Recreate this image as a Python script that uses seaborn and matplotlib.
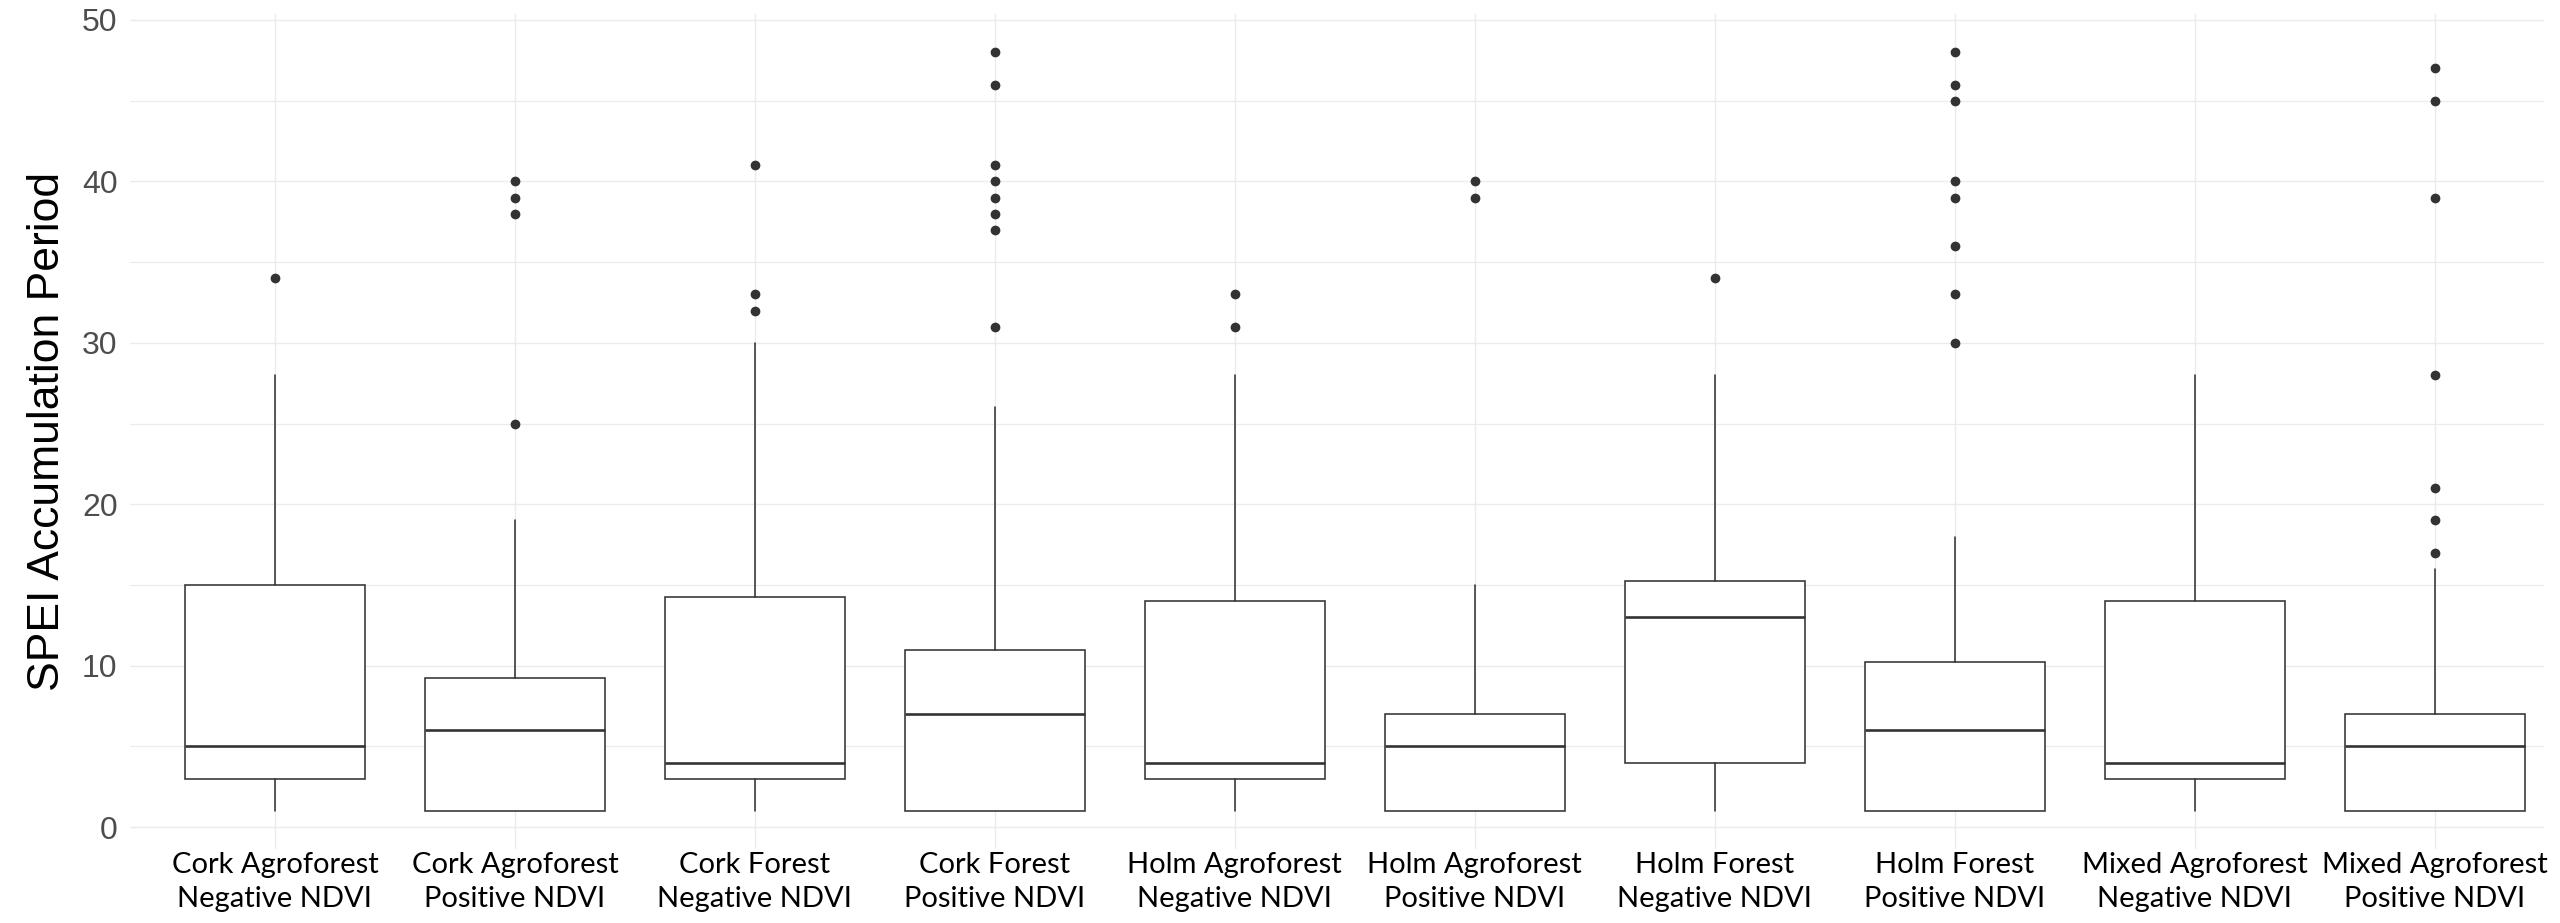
import matplotlib
matplotlib.use("Agg")
import matplotlib.pyplot as plt
from matplotlib.ticker import MultipleLocator
import seaborn as sns

# ---- data ----
categories = [
    "Cork Agroforest\nNegative NDVI", "Cork Agroforest\nPositive NDVI",
    "Cork Forest\nNegative NDVI", "Cork Forest\nPositive NDVI",
    "Holm Agroforest\nNegative NDVI", "Holm Agroforest\nPositive NDVI",
    "Holm Forest\nNegative NDVI", "Holm Forest\nPositive NDVI",
    "Mixed Agroforest\nNegative NDVI", "Mixed Agroforest\nPositive NDVI",
]
q1 = [3, 1, 3, 1, 3, 1, 4, 1, 3, 1]
median = [5, 6, 4, 7, 4, 5, 13, 6, 4, 5]
q3 = [15, 9.25, 14.25, 11, 14, 7, 15.25, 10.25, 14, 7]
whisker_low = [1, 1, 1, 1, 1, 1, 1, 1, 1, 1]
whisker_high = [28, 19, 30, 26, 28, 15, 28, 18, 28, 16]
outliers = [
    [34],
    [25, 38, 39, 40],
    [32, 33, 41],
    [31, 37, 38, 39, 40, 41, 46, 48],
    [31, 33],
    [39, 40],
    [34],
    [30, 33, 36, 39, 40, 45, 46, 48],
    [],
    [17, 19, 21, 28, 39, 45, 47],
]
y_label = "SPEI Accumulation Period"
y_ticks = [0, 10, 20, 30, 40, 50]

sns.set_theme(style="whitegrid")
plt.rcParams["font.family"] = ["Liberation Sans", "DejaVu Sans"]

W, H = 2560, 923
fig = plt.figure(figsize=(W / 100, H / 100), dpi=100)
fig.patch.set_facecolor("white")
left, right, top, bottom = 130, 2544, 14.3, 849
ax = fig.add_axes([left / W, 1 - bottom / H, (right - left) / W, (bottom - top) / H])
ax.set_facecolor("white")

stats = []
for i, c in enumerate(categories):
    stats.append(dict(label=c, q1=q1[i], med=median[i], q3=q3[i],
                      whislo=whisker_low[i], whishi=whisker_high[i],
                      fliers=outliers[i]))

line_c = "#333333"
ax.bxp(stats, positions=list(range(len(categories))), widths=0.75,
       patch_artist=True, showcaps=False, manage_ticks=False,
       boxprops=dict(facecolor="white", edgecolor=line_c, linewidth=1.15),
       medianprops=dict(color=line_c, linewidth=1.9, solid_capstyle="butt"),
       whiskerprops=dict(color=line_c, linewidth=1.15),
       flierprops=dict(marker="o", markerfacecolor=line_c,
                       markeredgecolor=line_c, markersize=6, linestyle="none"))

ax.set_xlim(-0.604, 9.456)
ax.set_ylim(-1.35, 50.35)
ax.set_xticks(list(range(len(categories))))
ax.set_xticklabels(categories, fontsize=21, color="black",
                   family=["Lato", "DejaVu Sans"], linespacing=1.4)
ax.set_yticks(y_ticks)
ax.set_yticklabels([str(t) for t in y_ticks], fontsize=23, color="#4D4D4D")
ax.yaxis.set_minor_locator(MultipleLocator(5))
ax.tick_params(axis="both", which="both", length=0)
ax.tick_params(axis="x", pad=2)
ax.tick_params(axis="y", pad=9)

ax.set_axisbelow(True)
ax.grid(False)
ax.grid(which="major", axis="both", color="#EBEBEB", linewidth=1.0)
ax.grid(which="minor", axis="y", color="#EBEBEB", linewidth=0.9)
for s in ax.spines.values():
    s.set_visible(False)

ax.set_ylabel(y_label, fontsize=32, color="black")
ax.yaxis.set_label_coords(-(left - 68) / (right - left), 0.5)

fig.savefig("out.png", dpi=100, facecolor="white")
